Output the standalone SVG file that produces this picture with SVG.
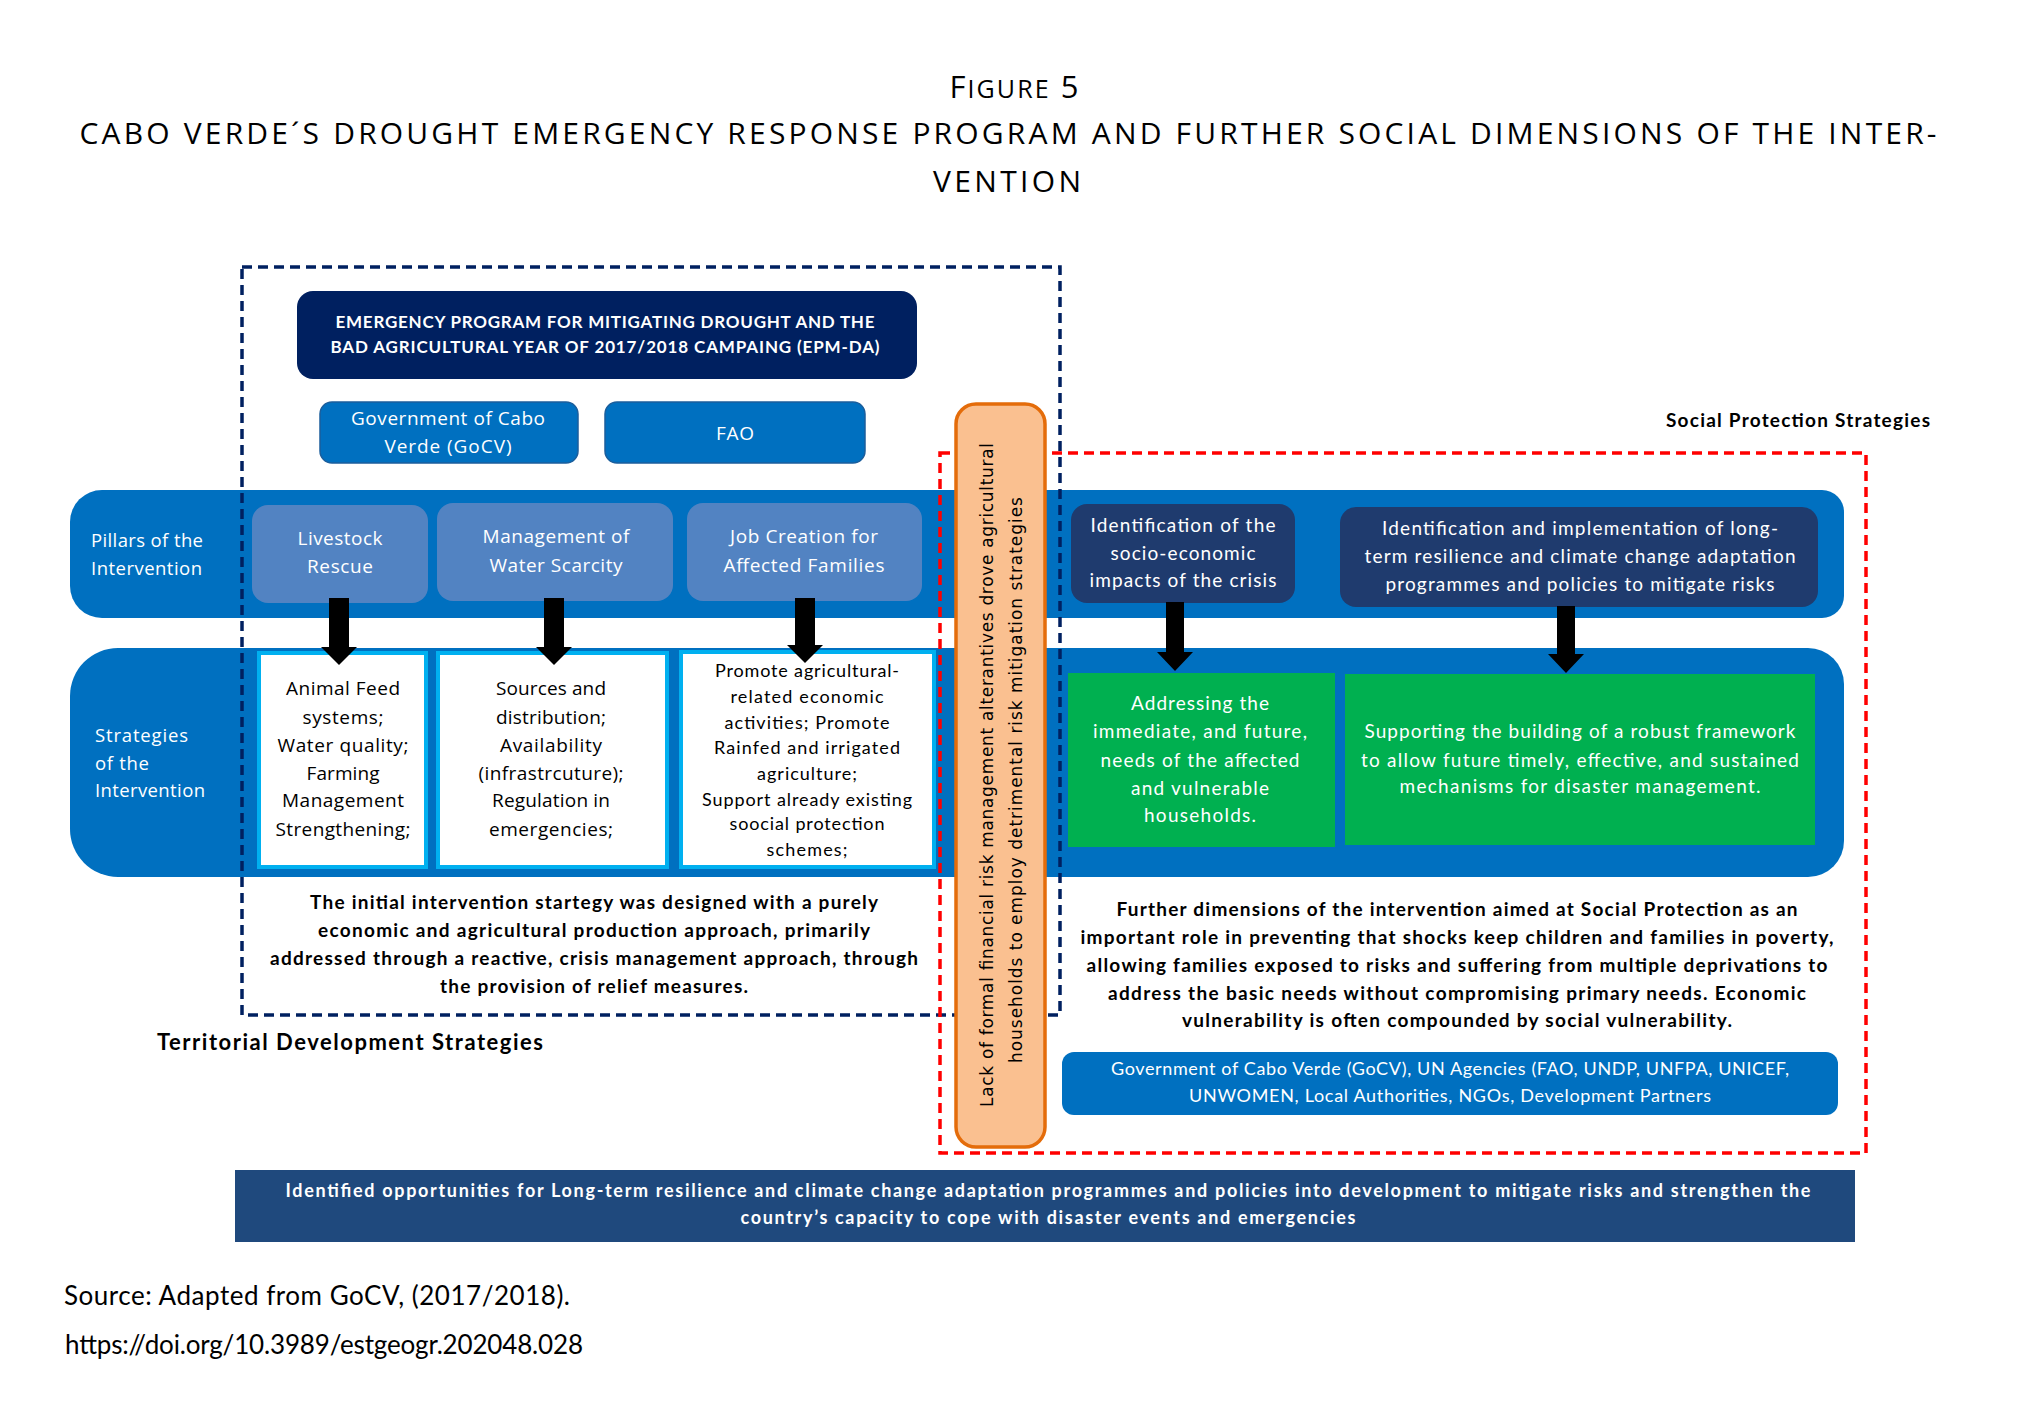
<svg xmlns="http://www.w3.org/2000/svg" width="2017" height="1428" viewBox="0 0 2017 1428">
<style>
.seg{font-family:"Open Sans","DejaVu Sans",sans-serif}
.cal{font-family:Lato,"Liberation Sans",sans-serif}
.b{font-weight:bold}
.w{fill:#ffffff}
.k{fill:#000000}
.m{text-anchor:middle}
.band{fill:#0070C0}
.pil{fill:#5283C2}
.navy{fill:#1F3B6E}
.wbox{fill:#ffffff;stroke:#00B0F0;stroke-width:4}
.green{fill:#00B050}
.arrow{fill:#000000}
</style>
<rect width="2017" height="1428" fill="#ffffff"/>

<g id="title" class="seg k m">
<text x="1014" y="98" font-size="31" textLength="129" lengthAdjust="spacing">F<tspan font-size="25">IGURE</tspan> 5</text>
<text x="1008" y="144" font-size="30" textLength="1857" lengthAdjust="spacing">CABO VERDE´S DROUGHT EMERGENCY RESPONSE PROGRAM AND FURTHER SOCIAL DIMENSIONS OF THE INTER-</text>
<text x="1007" y="192" font-size="30" textLength="148" lengthAdjust="spacing">VENTION</text>
</g>

<g id="bands">
<path class="band" d="M102 490 H1822 A22 22 0 0 1 1844 512 V596 A22 22 0 0 1 1822 618 H102 A32 32 0 0 1 70 586 V522 A32 32 0 0 1 102 490 Z"/>
<path class="band" d="M118 648 H1808 A36 36 0 0 1 1844 684 V841 A36 36 0 0 1 1808 877 H118 A48 48 0 0 1 70 829 V696 A48 48 0 0 1 118 648 Z"/>
</g>

<g id="row-labels" class="seg w" font-size="18.5">
<text x="91" y="547" textLength="112" lengthAdjust="spacing">Pillars of the</text>
<text x="91" y="575" textLength="111" lengthAdjust="spacing">Intervention</text>
<text x="95" y="742" textLength="93" lengthAdjust="spacing">Strategies</text>
<text x="95" y="770" textLength="54" lengthAdjust="spacing">of the</text>
<text x="95" y="797" textLength="110" lengthAdjust="spacing">Intervention</text>
</g>

<g id="epm-da">
<rect x="297" y="291" width="620" height="88" rx="16" fill="#002060"/>
<text class="cal b w m" x="605" y="328" font-size="17" textLength="539" lengthAdjust="spacing">EMERGENCY PROGRAM FOR MITIGATING DROUGHT AND THE</text>
<text class="cal b w m" x="605" y="353" font-size="17" textLength="549" lengthAdjust="spacing">BAD AGRICULTURAL YEAR OF 2017/2018 CAMPAING (EPM-DA)</text>
</g>

<g id="gocv">
<rect x="320" y="402" width="258" height="61" rx="12" fill="#0070C0" stroke="#1B5E9C" stroke-width="1.5"/>
<text class="seg w m" x="448" y="425" font-size="19" textLength="194" lengthAdjust="spacing">Government of Cabo</text>
<text class="seg w m" x="448" y="453" font-size="19" textLength="127" lengthAdjust="spacing">Verde (GoCV)</text>
</g>

<g id="fao">
<rect x="605" y="402" width="260" height="61" rx="12" fill="#0070C0" stroke="#1B5E9C" stroke-width="1.5"/>
<text class="seg w m" x="735" y="440" font-size="19" textLength="38" lengthAdjust="spacing">FAO</text>
</g>

<g id="pillar-livestock">
<rect class="pil" x="252" y="505" width="176" height="98" rx="16"/>
<text class="seg w m" x="340" y="545" font-size="19" textLength="85" lengthAdjust="spacing">Livestock</text>
<text class="seg w m" x="340" y="573" font-size="19" textLength="66" lengthAdjust="spacing">Rescue</text>
</g>

<g id="pillar-water">
<rect class="pil" x="437" y="503" width="236" height="98" rx="16"/>
<text class="seg w m" x="556" y="543" font-size="19" textLength="147" lengthAdjust="spacing">Management of</text>
<text class="seg w m" x="556" y="572" font-size="19" textLength="133" lengthAdjust="spacing">Water Scarcity</text>
</g>

<g id="pillar-jobs">
<rect class="pil" x="687" y="503" width="235" height="98" rx="16"/>
<text class="seg w m" x="804" y="543" font-size="19" textLength="148" lengthAdjust="spacing">Job Creation for</text>
<text class="seg w m" x="804" y="572" font-size="19" textLength="161" lengthAdjust="spacing">Affected Families</text>
</g>

<g id="pillar-socio">
<rect class="navy" x="1071" y="504" width="224" height="99" rx="16"/>
<text class="cal w m" x="1183" y="532" font-size="19" textLength="185" lengthAdjust="spacing">Identification of the</text>
<text class="cal w m" x="1183" y="560" font-size="19" textLength="145" lengthAdjust="spacing">socio-economic</text>
<text class="cal w m" x="1183" y="587" font-size="19" textLength="187" lengthAdjust="spacing">impacts of the crisis</text>
</g>

<g id="pillar-resilience">
<rect class="navy" x="1340" y="507" width="478" height="100" rx="16"/>
<text class="cal w m" x="1580" y="535" font-size="19" textLength="396" lengthAdjust="spacing">Identification and implementation of long-</text>
<text class="cal w m" x="1580" y="563" font-size="19" textLength="431" lengthAdjust="spacing">term resilience and climate change adaptation</text>
<text class="cal w m" x="1580" y="591" font-size="19" textLength="389" lengthAdjust="spacing">programmes and policies to mitigate risks</text>
</g>

<g id="strategy-livestock">
<rect class="wbox" x="259" y="653" width="167" height="214"/>
<g class="seg k m" font-size="19">
<text x="343" y="695" textLength="114" lengthAdjust="spacing">Animal Feed</text>
<text x="343" y="724" textLength="81" lengthAdjust="spacing">systems;</text>
<text x="343" y="752" textLength="131" lengthAdjust="spacing">Water quality;</text>
<text x="343" y="780" textLength="73" lengthAdjust="spacing">Farming</text>
<text x="343" y="807" textLength="122" lengthAdjust="spacing">Management</text>
<text x="343" y="836" textLength="135" lengthAdjust="spacing">Strengthening;</text>
</g>
</g>

<g id="strategy-water">
<rect class="wbox" x="438" y="653" width="229" height="214"/>
<g class="seg k m" font-size="19">
<text x="551" y="695" textLength="110" lengthAdjust="spacing">Sources and</text>
<text x="551" y="724" textLength="110" lengthAdjust="spacing">distribution;</text>
<text x="551" y="752" textLength="102" lengthAdjust="spacing">Availability</text>
<text x="551" y="780" textLength="145" lengthAdjust="spacing">(infrastrcuture);</text>
<text x="551" y="807" textLength="118" lengthAdjust="spacing">Regulation in</text>
<text x="551" y="836" textLength="124" lengthAdjust="spacing">emergencies;</text>
</g>
</g>

<g id="strategy-jobs">
<rect class="wbox" x="681" y="652" width="253" height="215"/>
<g class="cal k m" font-size="18">
<text x="807" y="677" textLength="184" lengthAdjust="spacing">Promote agricultural-</text>
<text x="807" y="703" textLength="153" lengthAdjust="spacing">related economic</text>
<text x="807" y="729" textLength="165" lengthAdjust="spacing">activities; Promote</text>
<text x="807" y="754" textLength="186" lengthAdjust="spacing">Rainfed and irrigated</text>
<text x="807" y="780" textLength="100" lengthAdjust="spacing">agriculture;</text>
<text x="807" y="806" textLength="210" lengthAdjust="spacing">Support already existing</text>
<text x="807" y="830" textLength="155" lengthAdjust="spacing">soocial protection</text>
<text x="807" y="856" textLength="81" lengthAdjust="spacing">schemes;</text>
</g>
</g>

<g id="strategy-needs">
<rect class="green" x="1068" y="673" width="267" height="174"/>
<g class="cal w m" font-size="19">
<text x="1200" y="710" textLength="138" lengthAdjust="spacing">Addressing the</text>
<text x="1200" y="738" textLength="214" lengthAdjust="spacing">immediate, and future,</text>
<text x="1200" y="767" textLength="199" lengthAdjust="spacing">needs of the affected</text>
<text x="1200" y="795" textLength="138" lengthAdjust="spacing">and vulnerable</text>
<text x="1200" y="822" textLength="112" lengthAdjust="spacing">households.</text>
</g>
</g>

<g id="strategy-framework">
<rect class="green" x="1345" y="674" width="470" height="171"/>
<g class="cal w m" font-size="19">
<text x="1580" y="738" textLength="431" lengthAdjust="spacing">Supporting the building of a robust framework</text>
<text x="1580" y="767" textLength="438" lengthAdjust="spacing">to allow future timely, effective, and sustained</text>
<text x="1580" y="793" textLength="361" lengthAdjust="spacing">mechanisms for disaster management.</text>
</g>
</g>

<g id="territorial-frame">
<rect x="242" y="267" width="818" height="748" fill="none" stroke="#002060" stroke-width="3.5" stroke-dasharray="10 6"/>
<g class="cal b k m" font-size="19">
<text x="594" y="909" textLength="568" lengthAdjust="spacing">The initial intervention startegy was designed with a purely</text>
<text x="594" y="937" textLength="552" lengthAdjust="spacing">economic and agricultural production approach, primarily</text>
<text x="594" y="965" textLength="648" lengthAdjust="spacing">addressed through a reactive, crisis management approach, through</text>
<text x="594" y="993" textLength="308" lengthAdjust="spacing">the provision of relief measures.</text>
</g>
<text class="cal b k" x="157" y="1050" font-size="22" textLength="386" lengthAdjust="spacing">Territorial Development Strategies</text>
</g>

<g id="social-frame">
<rect x="940" y="453" width="926" height="700" fill="none" stroke="#FF0000" stroke-width="3.5" stroke-dasharray="10 6"/>
<text class="cal b k" x="1666" y="427" font-size="19" textLength="264" lengthAdjust="spacing">Social Protection Strategies</text>
<g class="cal b k m" font-size="19">
<text x="1457" y="916" textLength="681" lengthAdjust="spacing">Further dimensions of the intervention aimed at Social Protection as an</text>
<text x="1457" y="944" textLength="753" lengthAdjust="spacing">important role in preventing that shocks keep children and families in poverty,</text>
<text x="1457" y="972" textLength="741" lengthAdjust="spacing">allowing families exposed to risks and suffering from multiple deprivations to</text>
<text x="1457" y="1000" textLength="698" lengthAdjust="spacing">address the basic needs without compromising primary needs. Economic</text>
<text x="1457" y="1027" textLength="550" lengthAdjust="spacing">vulnerability is often compounded by social vulnerability.</text>
</g>
</g>

<g id="actors">
<rect x="1062" y="1052" width="776" height="63" rx="12" fill="#0070C0"/>
<text class="cal w m" x="1450" y="1075" font-size="18" textLength="678" lengthAdjust="spacing">Government of Cabo Verde (GoCV), UN Agencies (FAO, UNDP, UNFPA, UNICEF,</text>
<text class="cal w m" x="1450" y="1102" font-size="18" textLength="522" lengthAdjust="spacing">UNWOMEN, Local Authorities, NGOs, Development Partners</text>
</g>

<g id="risk-gap">
<rect x="956" y="404" width="89" height="743" rx="20" fill="#FAC090" stroke="#E46C0A" stroke-width="3.5"/>
<text transform="translate(993,775) rotate(-90)" font-family="'DejaVu Sans',sans-serif" font-size="17" fill="#000" text-anchor="middle" textLength="664" lengthAdjust="spacing">Lack of formal financial risk management alterantives drove agricultural</text>
<text transform="translate(1022,780) rotate(-90)" font-family="'DejaVu Sans',sans-serif" font-size="17" fill="#000" text-anchor="middle" textLength="566" lengthAdjust="spacing">households to employ detrimental risk mitigation strategies</text>
</g>

<g id="connectors">
<path class="arrow" d="M329 598 H349 V647 H357 L339 665 L321 647 H329 Z"/>
<path class="arrow" d="M544 598 H564 V647 H572 L554 665 L536 647 H544 Z"/>
<path class="arrow" d="M795 598 H815 V645 H823 L805 663 L787 645 H795 Z"/>
<path class="arrow" d="M1166 602 H1184 V652 H1193 L1175 671 L1157 652 H1166 Z"/>
<path class="arrow" d="M1557 606 H1575 V654 H1584 L1566 673 L1548 654 H1557 Z"/>
</g>

<g id="opportunities">
<rect x="235" y="1170" width="1620" height="72" fill="#1F497D"/>
<text class="cal b w m" x="1048" y="1197" font-size="18" textLength="1525" lengthAdjust="spacing">Identified opportunities for Long-term resilience and climate change adaptation programmes and policies into development to mitigate risks and strengthen the</text>
<text class="cal b w m" x="1048" y="1224" font-size="18" textLength="615" lengthAdjust="spacing">country’s capacity to cope with disaster events and emergencies</text>
</g>

<g id="source" class="cal k" font-size="26">
<text x="64" y="1305" textLength="506" lengthAdjust="spacing">Source: Adapted from GoCV, (2017/2018).</text>
<text x="65" y="1354" textLength="518" lengthAdjust="spacing">https://doi.org/10.3989/estgeogr.202048.028</text>
</g>
</svg>
